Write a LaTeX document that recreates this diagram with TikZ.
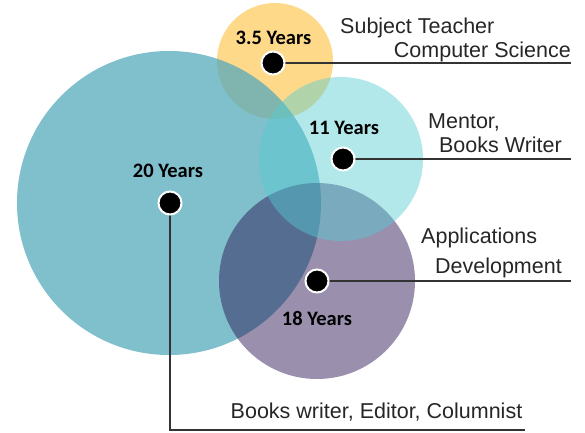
\documentclass[tikz,border=0pt]{standalone}
\usepackage{fontspec}
\setmainfont{Liberation Sans}
\newfontfamily\yrfont{Carlito}
\definecolor{cyellow}{RGB}{255,217,138}
\definecolor{cteal}{RGB}{85,169,187}
\definecolor{cpurple}{RGB}{40,17,81}
\definecolor{ccyan}{RGB}{84,204,209}
\definecolor{lineg}{RGB}{51,51,51}
\definecolor{txtg}{RGB}{38,38,38}
\tikzset{
  dot/.style={circle,fill=black,draw=white,line width=2pt,minimum size=23pt,inner sep=0pt},
  lead/.style={draw=lineg,line width=2pt},
  yrs/.style={font=\yrfont\bfseries\fontsize{20.5}{23}\selectfont,anchor=base,inner sep=0pt},
  desc/.style={font=\fontsize{21.5}{25}\selectfont,text=txtg,inner sep=0pt},
}
\begin{document}
\begin{tikzpicture}[x=1pt,y=-1pt]
\useasboundingbox (0,0) rectangle (585,432);
% circles
\fill[cyellow] (275,61) circle (58);
\fill[cteal,fill opacity=0.75] (169,203) circle (152);
\fill[cpurple,fill opacity=0.47] (317,281) circle (98);
\fill[ccyan,fill opacity=0.45] (341,159) circle (82);
% end points
\coordinate (e1) at (571,63);
\coordinate (e2) at (571,159);
\coordinate (e3) at (571,281);
\coordinate (c4) at (170,430);
\coordinate (e4) at (525,430);
% dots positions
\coordinate (p1) at (273,63);
\coordinate (p2) at (343,159);
\coordinate (p3) at (317,281);
\coordinate (p4) at (170,203);
% leaders
\draw[lead] (p1) -- (e1);
\draw[lead] (p2) -- (e2);
\draw[lead] (p3) -- (e3);
\draw[lead] (p4) -- (c4) -- (e4);
% dots
\node[dot] (d1) at (p1) {};
\node[dot] (d2) at (p2) {};
\node[dot] (d3) at (p3) {};
\node[dot] (d4) at (p4) {};
% year labels
\node[yrs] (y1) at (273.5,44) {3.5 Years};
\node[yrs] (y2) at (344,134) {11 Years};
\node[yrs] (y3) at (168,177) {20 Years};
\node[yrs] (y4) at (317,325) {18 Years};
% descriptions
\node[desc,anchor=base west] (t1a) at (340,33) {Subject Teacher};
\node[desc,anchor=base east] (t1b) at (571,57) {Computer Science};
\node[desc,anchor=base west] (t2a) at (428,128) {Mentor,};
\node[desc,anchor=base east] (t2b) at (562,152) {Books Writer};
\node[desc,anchor=base west] (t3a) at (421,243) {Applications};
\node[desc,anchor=base east] (t3b) at (562,273) {Development};
\node[desc,anchor=base] (t4) at (376.5,418) {Books writer, Editor, Columnist};
\end{tikzpicture}
\end{document}
